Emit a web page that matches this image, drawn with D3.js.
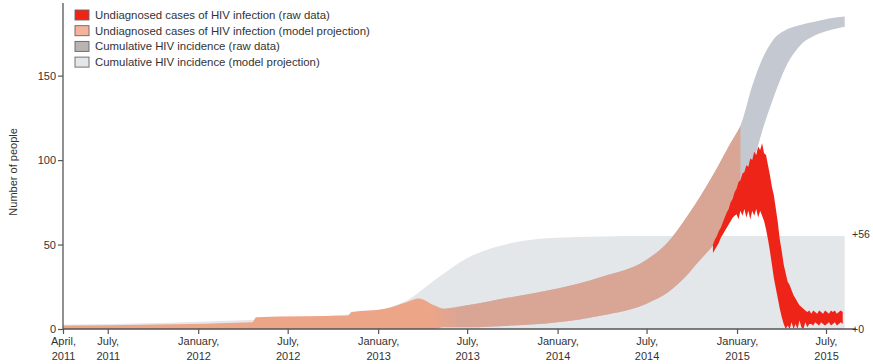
<!DOCTYPE html>
<html>
<head>
<meta charset="utf-8">
<script src="https://cdn.jsdelivr.net/npm/d3@7"></script>
<style>
  html, body { margin: 0; padding: 0; background: #fff; }
  svg { display: block; font-family: "Liberation Sans", Arial, sans-serif; }
</style>
</head>
<body>
<svg id="chart" width="873" height="364"></svg>
<script>
// ---------------- DATA ----------------
const xTickDates = ["2011-04-01","2011-07-01","2012-01-01","2012-07-01","2013-01-01","2013-07-01","2014-01-01","2014-07-01","2015-01-01","2015-07-01"];
const xTickLabels = [["April,","2011"],["July,","2011"],["January,","2012"],["July,","2012"],["January,","2013"],["July,","2013"],["January,","2014"],["July,","2014"],["January,","2015"],["July,","2015"]];
const yTicks = [0, 50, 100, 150];
const rightLabels = [{v: 56, t: "+56"}, {v: 0, t: "+0"}];

const legendLabels = [
  "Undiagnosed cases of HIV infection (raw data)",
  "Undiagnosed cases of HIV infection (model projection)",
  "Cumulative HIV incidence (raw data)",
  "Cumulative HIV incidence (model projection)"
];

// Cumulative HIV incidence (model projection): light grey band
const projDates = ["2011-04-01","2012-10-01","2013-01-01","2013-03-01","2013-05-01","2013-07-01","2013-10-01","2014-01-01","2014-07-01","2015-08-08"];
const projLow   = [0, 0, 0, 0, 0, 0, 0, 0, 0, 0];
const projHigh  = [2.5, 8, 11, 17, 30, 42, 51, 54, 55, 55];

// Cumulative HIV incidence (raw data): grey band
const cumDates = ["2013-05-15","2013-07-01","2013-10-01","2014-01-01","2014-04-01","2014-07-01","2014-08-15","2014-09-15","2014-10-15","2014-11-15","2014-12-15","2015-01-10","2015-02-01","2015-02-20","2015-03-15","2015-04-10","2015-05-10","2015-06-10","2015-07-10","2015-08-08"];
const cumLow   = [1, 1, 2, 4, 8, 15, 22, 30, 40, 50, 62, 76, 96, 116, 136, 155, 168, 174, 177, 179];
const cumHigh  = [12, 14, 19, 24, 31, 41, 52, 64, 77, 92, 108, 122, 144, 159, 171, 177, 180, 182, 184, 185];

// Undiagnosed cases (model projection): salmon band
const undxDates = ["2011-04-01","2012-04-20","2012-04-28","2012-11-01","2012-11-08","2013-01-15","2013-03-01","2013-03-25","2013-04-25","2013-05-15","2013-07-01","2013-10-01","2014-01-01","2014-04-01","2014-07-01","2014-08-15","2014-09-15","2014-10-15","2014-11-15","2014-12-15","2015-01-08"];
const undxLow   = [0, 0, 0, 0, 0, 0, 0, 0, 0, 1, 1, 2, 4, 8, 15, 22, 30, 40, 50, 62, 74];
const undxHigh  = [2, 4, 7, 8, 10, 12, 16, 18, 14, 12, 14, 19, 24, 31, 41, 52, 64, 77, 92, 108, 120];

// Undiagnosed cases (raw data): red noisy band, sampled every 4 days from 13 Nov 2014
const redStart = "2014-11-13";
const redStepDays = 4;
const redHigh = [50,53,55,58,60,63,66,69,71,75,77,81,83,87,88,92,93,97,96,101,100,105,103,108,106,110,104,103,97,91,84,79,71,63,53,46,38,33,28,26,23,20,18,16,14,13,12,11,10,11,
                 9,11,10,9,11,10,9,11,10,9,11,10,11,9,10,11,10];
const redLow  = [45,47,49,51,54,56,58,60,62,64,66,67,68,65,70,67,71,66,70,65,70,67,71,66,70,67,64,59,53,46,38,30,24,18,12,7,3,0,2,0,4,0,3,0,5,1,0,4,1,3,
                 3,2,4,3,2,4,3,2,3,4,2,3,4,2,3,4,3];

// ---------------- COLOURS ----------------
const colRed = "#ee2418";
const colSalmon = "#eda588";
const colBrown = "#d9a595";
const colGrey = "#c4c8d0";
const colLight = "#e4e7ea";

// ---------------- SCALES ----------------
const parse = d3.timeParse("%Y-%m-%d");
const svg = d3.select("#chart");
const x = d3.scaleTime().domain([parse("2011-04-01"), parse("2015-08-31")]).range([63, 856]);
const y = d3.scaleLinear().domain([0, 193]).range([329, 3]);

function bandData(dates, lo, hi) {
  return dates.map((d, i) => ({ date: typeof d === "string" ? parse(d) : d, lo: lo[i], hi: hi[i] }));
}
const area = d3.area().x(d => x(d.date)).y0(d => y(d.lo)).y1(d => y(d.hi)).curve(d3.curveLinear);
const smooth = d3.area().x(d => x(d.date)).y0(d => y(d.lo)).y1(d => y(d.hi)).curve(d3.curveMonotoneX);

// gradient for salmon band (lighter salmon alone, brownish where over grey)
const defs = svg.append("defs");
const grad = defs.append("linearGradient").attr("id", "undxGrad")
  .attr("gradientUnits", "userSpaceOnUse")
  .attr("x1", x(parse("2013-04-15"))).attr("x2", x(parse("2013-06-20")))
  .attr("y1", 0).attr("y2", 0);
grad.append("stop").attr("offset", 0).attr("stop-color", colSalmon);
grad.append("stop").attr("offset", 1).attr("stop-color", colBrown);

// ---------------- MARKS ----------------
svg.append("path").datum(bandData(projDates, projLow, projHigh))
  .attr("d", smooth).attr("fill", colLight);

svg.append("path").datum(bandData(cumDates, cumLow, cumHigh))
  .attr("d", smooth).attr("fill", colGrey);

svg.append("path").datum(bandData(undxDates, undxLow, undxHigh))
  .attr("d", smooth).attr("fill", "url(#undxGrad)");

const redDates = redHigh.map((_, i) => d3.timeDay.offset(parse(redStart), i * redStepDays));
svg.append("path").datum(bandData(redDates, redLow, redHigh))
  .attr("d", area).attr("fill", colRed);

// ---------------- AXES ----------------
const axisColor = "#555";
const textColor = "#333";

// y axis
const yAxis = svg.append("g").attr("transform", "translate(63,0)")
  .call(d3.axisLeft(y).tickValues(yTicks).tickSize(5).tickPadding(2).tickFormat(d3.format("d")));
yAxis.select(".domain").attr("d", `M0,${y(0)}V${y(193)}`).attr("stroke", axisColor).attr("stroke-width", 1.3);
yAxis.selectAll(".tick line").attr("stroke", axisColor).attr("stroke-width", 1.2);
yAxis.selectAll(".tick text").attr("fill", textColor).style("font-size", "11px").style("font-family", "Liberation Sans, Arial, sans-serif");

// x axis
const xAxis = svg.append("g").attr("transform", `translate(0,${y(0)})`)
  .call(d3.axisBottom(x).tickValues(xTickDates.map(parse)).tickSize(5).tickFormat(""));
xAxis.select(".domain").attr("d", `M63,0H856`).attr("stroke", axisColor).attr("stroke-width", 1.3);
xAxis.selectAll(".tick line").attr("stroke", axisColor).attr("stroke-width", 1.2);
xAxis.selectAll(".tick").each(function(d, i) {
  const t = d3.select(this).append("text")
    .attr("fill", textColor).attr("text-anchor", "middle")
    .style("font-size", "11px").style("font-family", "Liberation Sans, Arial, sans-serif");
  t.append("tspan").attr("x", 0).attr("y", 16).text(xTickLabels[i][0]);
  t.append("tspan").attr("x", 0).attr("y", 31).text(xTickLabels[i][1]);
});

// y label
svg.append("text")
  .attr("transform", `translate(17,${y(93)}) rotate(-90)`)
  .attr("text-anchor", "middle")
  .attr("fill", textColor)
  .style("font-size", "11px")
  .text("Number of people");

// right annotations
svg.selectAll("text.rlab").data(rightLabels).enter().append("text")
  .attr("class", "rlab")
  .attr("x", 852).attr("y", d => y(d.v)).attr("dy", "0.35em")
  .attr("fill", textColor).style("font-size", "10.5px")
  .text(d => d.t);

// ---------------- LEGEND ----------------
const legendColors = [colRed, "#f4b39d", "#b9b4b2", "#e4e6ea"];
const lg = svg.append("g").attr("transform", "translate(75,15)");
legendLabels.forEach((lab, i) => {
  const g = lg.append("g").attr("transform", `translate(0,${i * 15.7})`);
  g.append("rect").attr("x", 0).attr("y", -5).attr("width", 14).attr("height", 10)
    .attr("fill", legendColors[i]).attr("stroke", "#666").attr("stroke-width", 0.9);
  g.append("text").attr("x", 20).attr("y", 0).attr("dy", "0.35em")
    .attr("fill", textColor).style("font-size", "11.4px").text(lab);
});
</script>
</body>
</html>
